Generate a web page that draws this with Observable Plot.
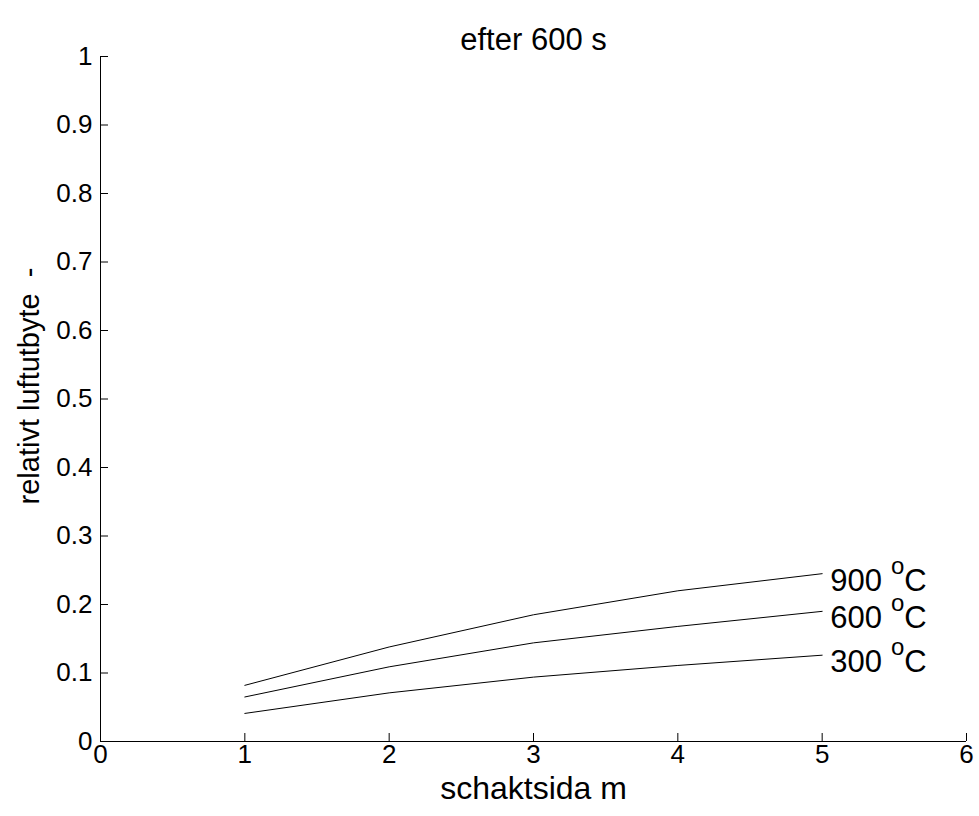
<!DOCTYPE html>
<html>
<head>
<meta charset="utf-8">
<script src="https://cdn.jsdelivr.net/npm/d3@7"></script>
<script src="https://cdn.jsdelivr.net/npm/@observablehq/plot@0.6"></script>
<style>
  html, body { margin: 0; padding: 0; background: #fff; }
  svg { display: block; }
</style>
</head>
<body>
<div id="chart"></div>
<script>
// ---- data ----
const sideLength = [1, 2, 3, 4, 5];           // schaktsida (m)
const exchange900 = [0.082, 0.138, 0.185, 0.220, 0.245];
const exchange600 = [0.065, 0.109, 0.144, 0.168, 0.190];
const exchange300 = [0.041, 0.071, 0.094, 0.111, 0.126];
const temperatures = [900, 600, 300];
const xTicks = [0, 1, 2, 3, 4, 5, 6];
const yTicks = [0, 0.1, 0.2, 0.3, 0.4, 0.5, 0.6, 0.7, 0.8, 0.9, 1];
const titleText = "efter 600 s";
const xLabelText = "schaktsida m";
const yLabelText = "relativt luftutbyte  -";

const seriesByTemp = {900: exchange900, 600: exchange600, 300: exchange300};
const rows = temperatures.flatMap(t => sideLength.map((x, i) => ({temp: t, x, y: seriesByTemp[t][i]})));
const lastPoints = temperatures.map(t => ({temp: t, x: sideLength[sideLength.length - 1], y: seriesByTemp[t][sideLength.length - 1]}));

const W = 979, H = 816;
const mL = 100, mR = 13, mT = 56, mB = 75;
const frameW = W - mL - mR, frameH = H - mT - mB;
const font = "'Liberation Sans', Arial, Helvetica, sans-serif";

const svg = Plot.plot({
  width: W,
  height: H,
  marginLeft: mL,
  marginRight: mR,
  marginTop: mT,
  marginBottom: mB,
  style: {fontFamily: font, background: "#fff", color: "#000", overflow: "visible"},
  x: {domain: [0, 6], axis: null},
  y: {domain: [0, 1], axis: null},
  marks: [
    // axis lines
    Plot.ruleX([0], {stroke: "#000", strokeWidth: 1}),
    Plot.ruleY([0], {stroke: "#000", strokeWidth: 1}),
    // inward ticks
    Plot.tickY(yTicks, {y: d => d, stroke: "#000", insetRight: frameW - 8}),
    Plot.tickX(xTicks, {x: d => d, stroke: "#000", insetTop: frameH - 8}),
    // tick labels
    Plot.text(yTicks, {y: d => d, frameAnchor: "left", textAnchor: "end", dx: -8, text: d => String(d), fontSize: 26, fill: "#000"}),
    Plot.text(xTicks, {x: d => d, frameAnchor: "bottom", dy: 21, text: d => String(d), fontSize: 26, fill: "#000"}),
    // data lines
    Plot.line(rows, {x: "x", y: "y", z: "temp", stroke: "#000", strokeWidth: 1}),
    // series labels
    Plot.text(lastPoints, {x: "x", y: "y", text: d => String(d.temp), textAnchor: "start", dx: 8, dy: 7, fontSize: 31, fill: "#000"}),
    // title and axis labels
    Plot.text([titleText], {frameAnchor: "top", dy: -29, text: d => d, fontSize: 31, fill: "#000"}),
    Plot.text([xLabelText], {frameAnchor: "bottom", dy: 57, text: d => d, fontSize: 32, fill: "#000"}),
    Plot.text([yLabelText], {frameAnchor: "left", textAnchor: "middle", rotate: -90, dx: -71, dy: -13, text: d => d, fontSize: 29, fill: "#000"})
  ]
});

// superscript "o" + "C" after each temperature label
const ns = "http://www.w3.org/2000/svg";
svg.querySelectorAll("text").forEach(t => {
  if (!temperatures.map(String).includes(t.textContent.trim())) return;
  const o = document.createElementNS(ns, "tspan");
  o.setAttribute("dx", "9");
  o.setAttribute("dy", "-17");
  o.setAttribute("font-size", "24");
  o.textContent = "o";
  const c = document.createElementNS(ns, "tspan");
  c.setAttribute("dy", "17");
  c.textContent = "C";
  t.appendChild(o);
  t.appendChild(c);
});
svg.querySelectorAll("text").forEach(t => t.setAttribute("white-space", "pre"));

document.getElementById("chart").appendChild(svg);
</script>
</body>
</html>
